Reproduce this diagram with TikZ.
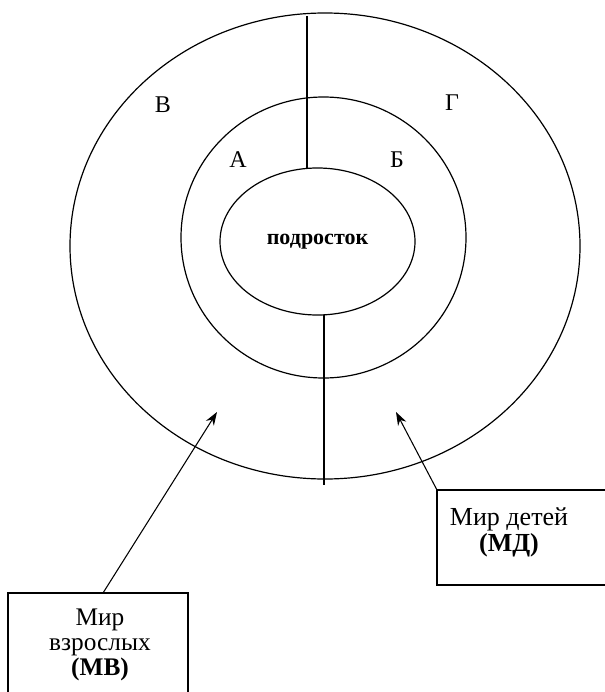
\documentclass[tikz,border=0pt]{standalone}
\usepackage{fontspec}
\setmainfont{Liberation Serif}
\usetikzlibrary{shapes.geometric,arrows.meta}
\begin{document}
\begin{tikzpicture}[x=0.75pt,y=-0.75pt,
  ring/.style={draw, ellipse, inner sep=0pt, outer sep=0pt, line width=0.9pt},
  lbl/.style={font=\fontsize{18}{20}\selectfont},
  boxtxt/.style={align=center, font=\fontsize{19.5}{19.5}\selectfont},
  frame/.style={draw, line width=0.8pt, inner sep=0pt, outer sep=0pt, anchor=north west},
  arr/.style={-{Stealth[length=10pt,width=7pt]}, line width=0.8pt},
  divider/.style={line width=0.8pt}]
\useasboundingbox (0,0) rectangle (605,692);
% rings
\node[ring, minimum width=382.5pt, minimum height=349.5pt] (outer) at (325,246) {};
\node[ring, minimum width=213.75pt, minimum height=210.75pt] (middle) at (323.5,237.5) {};
\node[ring, minimum width=146.25pt, minimum height=110.25pt, font=\fontsize{16.5}{18}\selectfont\bfseries] (inner) at (317.5,241.5) {подросток};
% dividers
\coordinate (ttop) at (307,16);
\draw[divider] (ttop) -- (ttop |- inner.north);
\coordinate (bbot) at (324,485);
\draw[divider] (bbot |- inner.south) -- (bbot);
% sector labels
\node[lbl] (lV) at (163,105) {В};
\node[lbl] (lG) at (452,103) {Г};
\node[lbl] (lA) at (238,160) {А};
\node[lbl] (lB) at (397,160) {Б};
% boxes
\node[frame, minimum width=135pt, minimum height=90pt] (lbox) at (8,593) {};
\node[frame, minimum width=131pt, minimum height=71.25pt] (rbox) at (437,490) {};
\node[boxtxt, font=\fontsize{19}{18.75}\selectfont] (ltext) at (100,645) {Мир\\взрослых\\\textbf{(МВ)}};
\node[boxtxt] (rtext) at (509,532) {Мир детей\\\textbf{(МД)}};
% arrows
\coordinate (ltip) at (217,412);
\coordinate (rtip) at (396,412);
\draw[arr] ([xshift=3.75pt]lbox.north) -- (ltip);
\draw[arr] (rbox.north west) -- (rtip);
\end{tikzpicture}
\end{document}
